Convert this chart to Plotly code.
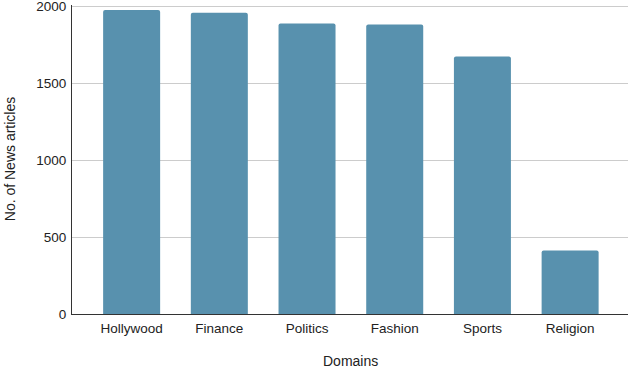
import plotly.graph_objects as go

domains = ["Hollywood", "Finance", "Politics", "Fashion", "Sports", "Religion"]
articles = [1978, 1960, 1890, 1883, 1675, 413]
y_ticks = [0, 500, 1000, 1500, 2000]

fig = go.Figure()
fig.add_trace(go.Bar(x=list(range(len(domains))), y=articles,
                     marker=dict(color="#5891ae", line=dict(width=0)),
                     width=0.65, cliponaxis=False))

fig.update_layout(
    width=630, height=368,
    margin=dict(l=72, r=2, t=4.5, b=54, autoexpand=False),
    paper_bgcolor="white", plot_bgcolor="white",
    font=dict(family="Liberation Sans, Arial, sans-serif", size=13.5, color="#222222"),
    showlegend=False,
    barcornerradius=2,
)
fig.update_xaxes(
    range=[-0.68, 5.66], automargin=False,
    tickmode="array", tickvals=list(range(len(domains))), ticktext=domains,
    showline=True, linecolor="#333333", linewidth=1,
    showgrid=False, ticks="outside", ticklen=2, tickcolor="rgba(0,0,0,0)",
)
fig.update_yaxes(
    range=[0, 2010], automargin=False,
    tickmode="array", tickvals=y_ticks, ticklabeloverflow="allow",
    showline=True, linecolor="#333333", linewidth=1,
    showgrid=True, gridcolor="#cccccc", gridwidth=1,
    zeroline=False, ticks="outside", ticklen=2, tickcolor="rgba(0,0,0,0)",
)

# axis titles placed as annotations so the margins stay fixed
fig.add_annotation(text="Domains", xref="paper", yref="paper", x=0.5, y=-0.153,
                   showarrow=False, font=dict(size=14), yanchor="middle")
fig.add_annotation(text="No. of News articles", xref="paper", yref="paper",
                   x=-0.112, y=0.5, textangle=-90, showarrow=False,
                   font=dict(size=14), xanchor="center")

# drop the page's default body margin so the figure sits at the window corner
fig.write_html("out.html", config={"displayModeBar": False},
               post_script="document.body.style.margin='0px';")
